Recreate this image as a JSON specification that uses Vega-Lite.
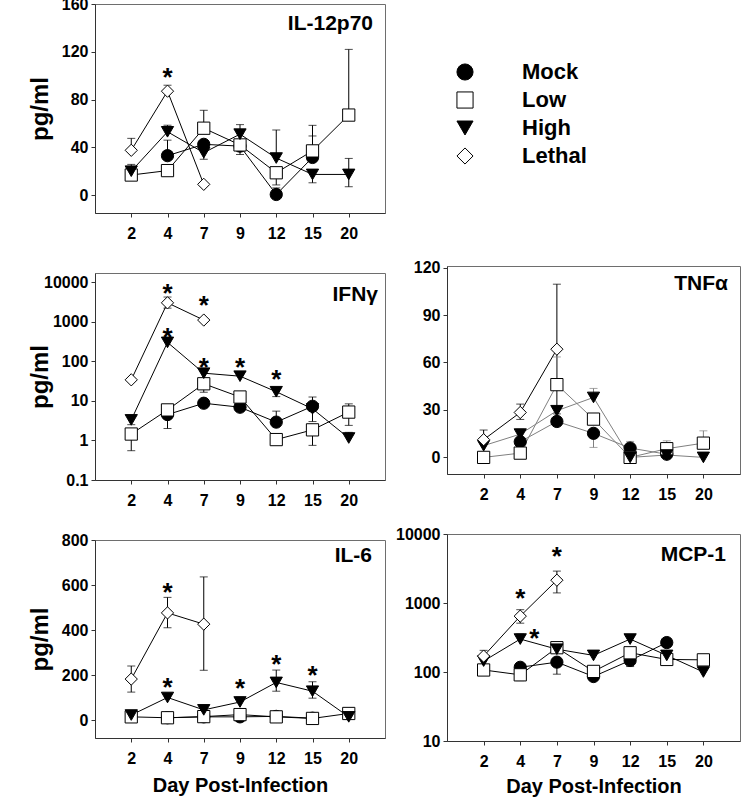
{
  "$schema": "https://vega.github.io/schema/vega-lite/v6.json",
  "background": "white",
  "padding": {"left": 27, "top": -5, "right": 0, "bottom": 0},
  "config": {
    "font": "Liberation Sans",
    "view": {"stroke": "#6e6e6e", "strokeWidth": 1},
    "axis": {"labelFontSize": 16, "labelFontWeight": "bold", "labelColor": "black", "domainColor": "#333333", "tickColor": "#333333", "tickSize": 4, "grid": false, "titleFontWeight": "bold", "titleColor": "black"},
    "axisX": {"labelPadding": 8, "labelAngle": 0, "titleFontSize": 20, "titleY": 53, "titleBaseline": "alphabetic"},
    "axisY": {"labelPadding": 3, "titleFontSize": 24, "titleX": -55, "titleBaseline": "middle"},
    "legend": {"orient": "none", "legendX": 359, "legendY": 57, "labelFontSize": 22, "labelFontWeight": "bold", "labelColor": "black", "labelOffset": 46, "symbolSize": 260, "symbolStrokeColor": "black", "symbolStrokeWidth": 1, "symbolOpacity": 1, "rowPadding": 6, "padding": 0, "labelLimit": 300},
    "title": {"anchor": "end", "frame": "group", "baseline": "alphabetic", "fontSize": 21, "fontWeight": "bold", "color": "black"}
  },
  "datasets": {
    "pts": [
      {"panel":"IL12","group":"Mock","day":4,"value":33},{"panel":"IL12","group":"Mock","day":7,"value":42.5},{"panel":"IL12","group":"Mock","day":9,"value":41},{"panel":"IL12","group":"Mock","day":12,"value":0.5},{"panel":"IL12","group":"Mock","day":15,"value":31.5},
      {"panel":"IL12","group":"Low","day":2,"value":16.8},{"panel":"IL12","group":"Low","day":4,"value":20.5},{"panel":"IL12","group":"Low","day":7,"value":56},{"panel":"IL12","group":"Low","day":9,"value":42},{"panel":"IL12","group":"Low","day":12,"value":18.7},{"panel":"IL12","group":"Low","day":15,"value":37},{"panel":"IL12","group":"Low","day":20,"value":67},
      {"panel":"IL12","group":"High","day":2,"value":20},{"panel":"IL12","group":"High","day":4,"value":53},{"panel":"IL12","group":"High","day":7,"value":35.5},{"panel":"IL12","group":"High","day":9,"value":51},{"panel":"IL12","group":"High","day":12,"value":31},{"panel":"IL12","group":"High","day":15,"value":17.3},{"panel":"IL12","group":"High","day":20,"value":17.3},
      {"panel":"IL12","group":"Lethal","day":2,"value":37.5},{"panel":"IL12","group":"Lethal","day":4,"value":87},{"panel":"IL12","group":"Lethal","day":7,"value":9},

      {"panel":"IFN","group":"Mock","day":4,"value":4.5},{"panel":"IFN","group":"Mock","day":7,"value":8.7},{"panel":"IFN","group":"Mock","day":9,"value":6.9},{"panel":"IFN","group":"Mock","day":12,"value":2.9},{"panel":"IFN","group":"Mock","day":15,"value":7.3},
      {"panel":"IFN","group":"Low","day":2,"value":1.45},{"panel":"IFN","group":"Low","day":4,"value":5.9},{"panel":"IFN","group":"Low","day":7,"value":27},{"panel":"IFN","group":"Low","day":9,"value":12.5},{"panel":"IFN","group":"Low","day":12,"value":1.05},{"panel":"IFN","group":"Low","day":15,"value":1.85},{"panel":"IFN","group":"Low","day":20,"value":5.2},
      {"panel":"IFN","group":"High","day":2,"value":3.3},{"panel":"IFN","group":"High","day":4,"value":300},{"panel":"IFN","group":"High","day":7,"value":50},{"panel":"IFN","group":"High","day":9,"value":42},{"panel":"IFN","group":"High","day":12,"value":17},{"panel":"IFN","group":"High","day":15,"value":6.3},{"panel":"IFN","group":"High","day":20,"value":1.15},
      {"panel":"IFN","group":"Lethal","day":2,"value":34},{"panel":"IFN","group":"Lethal","day":4,"value":3000},{"panel":"IFN","group":"Lethal","day":7,"value":1100},

      {"panel":"TNF","group":"Mock","day":4,"value":9.9},{"panel":"TNF","group":"Mock","day":7,"value":22.7},{"panel":"TNF","group":"Mock","day":9,"value":15.2},{"panel":"TNF","group":"Mock","day":12,"value":5.9},{"panel":"TNF","group":"Mock","day":15,"value":2},
      {"panel":"TNF","group":"Low","day":2,"value":0},{"panel":"TNF","group":"Low","day":4,"value":2.7},{"panel":"TNF","group":"Low","day":7,"value":46},{"panel":"TNF","group":"Low","day":9,"value":24.2},{"panel":"TNF","group":"Low","day":12,"value":0},{"panel":"TNF","group":"Low","day":15,"value":5.5},{"panel":"TNF","group":"Low","day":20,"value":9},
      {"panel":"TNF","group":"High","day":2,"value":7.4},{"panel":"TNF","group":"High","day":4,"value":14.7},{"panel":"TNF","group":"High","day":7,"value":29.5},{"panel":"TNF","group":"High","day":9,"value":37.9},{"panel":"TNF","group":"High","day":12,"value":0},{"panel":"TNF","group":"High","day":15,"value":1.5},{"panel":"TNF","group":"High","day":20,"value":0},
      {"panel":"TNF","group":"Lethal","day":2,"value":11.2},{"panel":"TNF","group":"Lethal","day":4,"value":28.4},{"panel":"TNF","group":"Lethal","day":7,"value":68.4},

      {"panel":"IL6","group":"Mock","day":4,"value":10},{"panel":"IL6","group":"Mock","day":7,"value":14},{"panel":"IL6","group":"Mock","day":9,"value":14},{"panel":"IL6","group":"Mock","day":12,"value":16},{"panel":"IL6","group":"Mock","day":15,"value":8},
      {"panel":"IL6","group":"Low","day":2,"value":14},{"panel":"IL6","group":"Low","day":4,"value":10},{"panel":"IL6","group":"Low","day":7,"value":15},{"panel":"IL6","group":"Low","day":9,"value":24},{"panel":"IL6","group":"Low","day":12,"value":14},{"panel":"IL6","group":"Low","day":15,"value":7},{"panel":"IL6","group":"Low","day":20,"value":29},
      {"panel":"IL6","group":"High","day":2,"value":22},{"panel":"IL6","group":"High","day":4,"value":100},{"panel":"IL6","group":"High","day":7,"value":45},{"panel":"IL6","group":"High","day":9,"value":80},{"panel":"IL6","group":"High","day":12,"value":167},{"panel":"IL6","group":"High","day":15,"value":128},{"panel":"IL6","group":"High","day":20,"value":14},
      {"panel":"IL6","group":"Lethal","day":2,"value":182},{"panel":"IL6","group":"Lethal","day":4,"value":476},{"panel":"IL6","group":"Lethal","day":7,"value":426},

      {"panel":"MCP","group":"Mock","day":4,"value":117},{"panel":"MCP","group":"Mock","day":7,"value":139},{"panel":"MCP","group":"Mock","day":9,"value":86},{"panel":"MCP","group":"Mock","day":12,"value":147},{"panel":"MCP","group":"Mock","day":15,"value":267},
      {"panel":"MCP","group":"Low","day":2,"value":107},{"panel":"MCP","group":"Low","day":4,"value":91},{"panel":"MCP","group":"Low","day":7,"value":225},{"panel":"MCP","group":"Low","day":9,"value":102},{"panel":"MCP","group":"Low","day":12,"value":190},{"panel":"MCP","group":"Low","day":15,"value":152},{"panel":"MCP","group":"Low","day":20,"value":150},
      {"panel":"MCP","group":"High","day":2,"value":144},{"panel":"MCP","group":"High","day":4,"value":300},{"panel":"MCP","group":"High","day":7,"value":214},{"panel":"MCP","group":"High","day":9,"value":174},{"panel":"MCP","group":"High","day":12,"value":300},{"panel":"MCP","group":"High","day":15,"value":174},{"panel":"MCP","group":"High","day":20,"value":100},
      {"panel":"MCP","group":"Lethal","day":2,"value":170},{"panel":"MCP","group":"Lethal","day":4,"value":645},{"panel":"MCP","group":"Lethal","day":7,"value":2140}
    ],
    "err": [
      {"panel":"IL12","group":"Lethal","day":2,"from":37.5,"to":47.5},{"panel":"IL12","group":"Lethal","day":4,"from":87,"to":92},
      {"panel":"IL12","group":"High","day":2,"from":20,"to":25.7},{"panel":"IL12","group":"High","day":4,"from":53,"to":58.5},{"panel":"IL12","group":"High","day":7,"from":35.5,"to":30},{"panel":"IL12","group":"High","day":9,"from":51,"to":59},{"panel":"IL12","group":"High","day":12,"from":31,"to":54.5},{"panel":"IL12","group":"High","day":15,"from":17.3,"to":10.3},{"panel":"IL12","group":"High","day":20,"from":17.3,"to":30.7},{"panel":"IL12","group":"High","day":20,"from":17.3,"to":7},
      {"panel":"IL12","group":"Mock","day":4,"from":33,"to":46},{"panel":"IL12","group":"Mock","day":12,"from":0.5,"to":6},{"panel":"IL12","group":"Mock","day":15,"from":31.5,"to":49.5},
      {"panel":"IL12","group":"Low","day":7,"from":56,"to":71},{"panel":"IL12","group":"Low","day":9,"from":42,"to":34},{"panel":"IL12","group":"Low","day":12,"from":18.7,"to":8.5},{"panel":"IL12","group":"Low","day":15,"from":37,"to":58.4},{"panel":"IL12","group":"Low","day":20,"from":67,"to":122},

      {"panel":"IFN","group":"Lethal","day":4,"from":3000,"to":4200},{"panel":"IFN","group":"Lethal","day":4,"from":3000,"to":2200},
      {"panel":"IFN","group":"High","day":2,"from":3.3,"to":2.5},{"panel":"IFN","group":"High","day":12,"from":17,"to":12.8},{"panel":"IFN","group":"High","day":20,"from":1.15,"to":1.6},
      {"panel":"IFN","group":"Low","day":2,"from":1.45,"to":0.55},{"panel":"IFN","group":"Low","day":7,"from":27,"to":16.5},{"panel":"IFN","group":"Low","day":15,"from":1.85,"to":0.75},{"panel":"IFN","group":"Low","day":20,"from":5.2,"to":8.4},{"panel":"IFN","group":"Low","day":20,"from":5.2,"to":2.4},
      {"panel":"IFN","group":"Mock","day":4,"from":4.5,"to":2.0},{"panel":"IFN","group":"Mock","day":12,"from":2.9,"to":5.5},{"panel":"IFN","group":"Mock","day":15,"from":7.3,"to":12.5},{"panel":"IFN","group":"Mock","day":15,"from":7.3,"to":3},

      {"panel":"TNF","group":"Lethal","day":2,"from":11.2,"to":17.3},{"panel":"TNF","group":"Lethal","day":4,"from":28.4,"to":33.7},{"panel":"TNF","group":"Lethal","day":4,"from":28.4,"to":24},{"panel":"TNF","group":"Lethal","day":7,"from":68.4,"to":109.5},{"panel":"TNF","group":"Lethal","day":7,"from":68.4,"to":27.5},
      {"panel":"TNF","group":"Low","day":7,"from":46,"to":63.5},{"panel":"TNF","group":"Low","day":15,"from":5.5,"to":10.5},{"panel":"TNF","group":"Low","day":20,"from":9,"to":16.8},
      {"panel":"TNF","group":"High","day":4,"from":14.7,"to":17.9},{"panel":"TNF","group":"High","day":9,"from":37.9,"to":43.6},
      {"panel":"TNF","group":"Mock","day":9,"from":15.2,"to":6.3},{"panel":"TNF","group":"Mock","day":12,"from":5.9,"to":10.1},

      {"panel":"IL6","group":"Lethal","day":2,"from":182,"to":240},{"panel":"IL6","group":"Lethal","day":2,"from":182,"to":124},{"panel":"IL6","group":"Lethal","day":4,"from":476,"to":545},{"panel":"IL6","group":"Lethal","day":4,"from":476,"to":410},{"panel":"IL6","group":"Lethal","day":7,"from":426,"to":636},{"panel":"IL6","group":"Lethal","day":7,"from":426,"to":221},
      {"panel":"IL6","group":"High","day":9,"from":80,"to":102},{"panel":"IL6","group":"High","day":12,"from":167,"to":222},{"panel":"IL6","group":"High","day":12,"from":167,"to":128},{"panel":"IL6","group":"High","day":15,"from":128,"to":170},{"panel":"IL6","group":"High","day":15,"from":128,"to":97},

      {"panel":"MCP","group":"Lethal","day":2,"from":170,"to":206},{"panel":"MCP","group":"Lethal","day":4,"from":645,"to":800},{"panel":"MCP","group":"Lethal","day":4,"from":645,"to":510},{"panel":"MCP","group":"Lethal","day":7,"from":2140,"to":2900},{"panel":"MCP","group":"Lethal","day":7,"from":2140,"to":1400},
      {"panel":"MCP","group":"High","day":4,"from":300,"to":355},{"panel":"MCP","group":"Low","day":7,"from":225,"to":270},{"panel":"MCP","group":"Low","day":4,"from":91,"to":75},{"panel":"MCP","group":"Mock","day":7,"from":139,"to":93},{"panel":"MCP","group":"Mock","day":12,"from":147,"to":120}
    ],
    "stars": [
      {"panel":"IL12","group":"Lethal","day":4,"value":104},
      {"panel":"IFN","group":"Lethal","day":4,"value":7400},{"panel":"IFN","group":"High","day":4,"value":590},{"panel":"IFN","group":"Lethal","day":7,"value":3830},{"panel":"IFN","group":"High","day":7,"value":102},{"panel":"IFN","group":"High","day":9,"value":102},{"panel":"IFN","group":"High","day":12,"value":52},
      {"panel":"IL6","group":"Lethal","day":4,"value":596},{"panel":"IL6","group":"High","day":4,"value":175},{"panel":"IL6","group":"High","day":9,"value":167},{"panel":"IL6","group":"High","day":12,"value":276},{"panel":"IL6","group":"High","day":15,"value":225},
      {"panel":"MCP","group":"Lethal","day":7,"value":5900},{"panel":"MCP","group":"Lethal","day":4,"value":1450},{"panel":"MCP","group":"High","day":4,"value":383}
    ]
  },
  "spacing": 9,
  "hconcat": [
    {
      "spacing": 60,
      "bounds": "flush",
      "vconcat": [
        {
          "width": 290, "height": 209,
          "title": {"text": "IL-12p70", "offset": -38, "dx": -12},
          "encoding": {"x": {"field": "day", "type": "ordinal", "scale": {"type": "point", "padding": 1, "domain": [2,4,7,9,12,15,20]}, "axis": {"title": null}}},
          "layer": [
            {"data": {"name": "err"}, "transform": [{"filter": "datum.panel === 'IL12'"}], "mark": {"type": "rule", "color": "black", "strokeWidth": 1},
             "encoding": {"y": {"field": "from", "type": "quantitative", "scale": {"domain": [-15,160], "nice": false, "zero": false}, "axis": {"values": [0,40,80,120,160], "title": "pg/ml"}}, "y2": {"field": "to"}}},
            {"data": {"name": "err"}, "transform": [{"filter": "datum.panel === 'IL12'"}], "mark": {"type": "tick", "orient": "horizontal", "size": 8, "thickness": 1, "color": "black"},
             "encoding": {"y": {"field": "to", "type": "quantitative", "scale": {"domain": [-15,160], "nice": false, "zero": false}, "axis": {"values": [0,40,80,120,160], "title": "pg/ml"}}}},
            {"data": {"name": "pts"}, "transform": [{"filter": "datum.panel === 'IL12'"}], "mark": {"type": "line", "color": "black", "strokeWidth": 1},
             "encoding": {"y": {"field": "value", "type": "quantitative", "scale": {"domain": [-15,160], "nice": false, "zero": false}, "axis": {"values": [0,40,80,120,160], "title": "pg/ml"}}, "detail": {"field": "group"}}},
            {"data": {"name": "pts"}, "transform": [{"filter": "datum.panel === 'IL12'"}], "mark": {"type": "point", "filled": true, "stroke": "black", "strokeWidth": 1, "size": 150, "opacity": 1},
             "encoding": {"y": {"field": "value", "type": "quantitative", "scale": {"domain": [-15,160], "nice": false, "zero": false}, "axis": {"values": [0,40,80,120,160], "title": "pg/ml"}},
               "shape": {"field": "group", "scale": {"domain": ["Mock","Low","High","Lethal"], "range": ["circle","square","triangle-down","diamond"]}, "legend": {"title": null, "encode": {"symbols": {"update": {"stroke": {"value": "black"}, "strokeWidth": {"value": 1}}}}}},
               "fill": {"field": "group", "scale": {"domain": ["Mock","Low","High","Lethal"], "range": ["black","white","black","white"]}, "legend": {"title": null, "encode": {"symbols": {"update": {"stroke": {"value": "black"}, "strokeWidth": {"value": 1}}}}}}}},
            {"data": {"name": "stars"}, "transform": [{"filter": "datum.panel === 'IL12'"}], "mark": {"type": "text", "text": "*", "fontSize": 26, "fontWeight": "bold", "baseline": "alphabetic", "dy": 15, "color": "black"},
             "encoding": {"y": {"field": "value", "type": "quantitative", "scale": {"domain": [-15,160], "nice": false, "zero": false}, "axis": {"values": [0,40,80,120,160], "title": "pg/ml"}}}}
          ]
        },
        {
          "width": 290, "height": 207,
          "title": {"text": "IFNγ", "offset": -32, "dx": -7},
          "encoding": {"x": {"field": "day", "type": "ordinal", "scale": {"type": "point", "padding": 1, "domain": [2,4,7,9,12,15,20]}, "axis": {"title": null}}},
          "layer": [
            {"data": {"name": "err"}, "transform": [{"filter": "datum.panel === 'IFN'"}], "mark": {"type": "rule", "color": "black", "strokeWidth": 1},
             "encoding": {"y": {"field": "from", "type": "quantitative", "scale": {"type": "log", "domain": [0.1,17000], "nice": false}, "axis": {"values": [0.1,1,10,100,1000,10000], "format": "~g", "title": "pg/ml"}}, "y2": {"field": "to"}}},
            {"data": {"name": "err"}, "transform": [{"filter": "datum.panel === 'IFN'"}], "mark": {"type": "tick", "orient": "horizontal", "size": 8, "thickness": 1, "color": "black"},
             "encoding": {"y": {"field": "to", "type": "quantitative", "scale": {"type": "log", "domain": [0.1,17000], "nice": false}, "axis": {"values": [0.1,1,10,100,1000,10000], "format": "~g", "title": "pg/ml"}}}},
            {"data": {"name": "pts"}, "transform": [{"filter": "datum.panel === 'IFN'"}], "mark": {"type": "line", "color": "black", "strokeWidth": 1},
             "encoding": {"y": {"field": "value", "type": "quantitative", "scale": {"type": "log", "domain": [0.1,17000], "nice": false}, "axis": {"values": [0.1,1,10,100,1000,10000], "format": "~g", "title": "pg/ml"}}, "detail": {"field": "group"}}},
            {"data": {"name": "pts"}, "transform": [{"filter": "datum.panel === 'IFN'"}], "mark": {"type": "point", "filled": true, "stroke": "black", "strokeWidth": 1, "size": 150, "opacity": 1},
             "encoding": {"y": {"field": "value", "type": "quantitative", "scale": {"type": "log", "domain": [0.1,17000], "nice": false}, "axis": {"values": [0.1,1,10,100,1000,10000], "format": "~g", "title": "pg/ml"}},
               "shape": {"field": "group", "scale": {"domain": ["Mock","Low","High","Lethal"], "range": ["circle","square","triangle-down","diamond"]}, "legend": {"title": null, "encode": {"symbols": {"update": {"stroke": {"value": "black"}, "strokeWidth": {"value": 1}}}}}},
               "fill": {"field": "group", "scale": {"domain": ["Mock","Low","High","Lethal"], "range": ["black","white","black","white"]}, "legend": {"title": null, "encode": {"symbols": {"update": {"stroke": {"value": "black"}, "strokeWidth": {"value": 1}}}}}}}},
            {"data": {"name": "stars"}, "transform": [{"filter": "datum.panel === 'IFN'"}], "mark": {"type": "text", "text": "*", "fontSize": 26, "fontWeight": "bold", "baseline": "alphabetic", "dy": 15, "color": "black"},
             "encoding": {"y": {"field": "value", "type": "quantitative", "scale": {"type": "log", "domain": [0.1,17000], "nice": false}, "axis": {"values": [0.1,1,10,100,1000,10000], "format": "~g", "title": "pg/ml"}}}}
          ]
        },
        {
          "width": 290, "height": 198,
          "title": {"text": "IL-6", "offset": -34, "dx": -13},
          "encoding": {"x": {"field": "day", "type": "ordinal", "scale": {"type": "point", "padding": 1, "domain": [2,4,7,9,12,15,20]}, "axis": {"title": "Day Post-Infection"}}},
          "layer": [
            {"data": {"name": "err"}, "transform": [{"filter": "datum.panel === 'IL6'"}], "mark": {"type": "rule", "color": "black", "strokeWidth": 1},
             "encoding": {"y": {"field": "from", "type": "quantitative", "scale": {"domain": [-80,800], "nice": false, "zero": false}, "axis": {"values": [0,200,400,600,800], "title": "pg/ml"}}, "y2": {"field": "to"}}},
            {"data": {"name": "err"}, "transform": [{"filter": "datum.panel === 'IL6'"}], "mark": {"type": "tick", "orient": "horizontal", "size": 8, "thickness": 1, "color": "black"},
             "encoding": {"y": {"field": "to", "type": "quantitative", "scale": {"domain": [-80,800], "nice": false, "zero": false}, "axis": {"values": [0,200,400,600,800], "title": "pg/ml"}}}},
            {"data": {"name": "pts"}, "transform": [{"filter": "datum.panel === 'IL6'"}], "mark": {"type": "line", "color": "black", "strokeWidth": 1},
             "encoding": {"y": {"field": "value", "type": "quantitative", "scale": {"domain": [-80,800], "nice": false, "zero": false}, "axis": {"values": [0,200,400,600,800], "title": "pg/ml"}}, "detail": {"field": "group"}}},
            {"data": {"name": "pts"}, "transform": [{"filter": "datum.panel === 'IL6'"}], "mark": {"type": "point", "filled": true, "stroke": "black", "strokeWidth": 1, "size": 150, "opacity": 1},
             "encoding": {"y": {"field": "value", "type": "quantitative", "scale": {"domain": [-80,800], "nice": false, "zero": false}, "axis": {"values": [0,200,400,600,800], "title": "pg/ml"}},
               "shape": {"field": "group", "scale": {"domain": ["Mock","Low","High","Lethal"], "range": ["circle","square","triangle-down","diamond"]}, "legend": {"title": null, "encode": {"symbols": {"update": {"stroke": {"value": "black"}, "strokeWidth": {"value": 1}}}}}},
               "fill": {"field": "group", "scale": {"domain": ["Mock","Low","High","Lethal"], "range": ["black","white","black","white"]}, "legend": {"title": null, "encode": {"symbols": {"update": {"stroke": {"value": "black"}, "strokeWidth": {"value": 1}}}}}}}},
            {"data": {"name": "stars"}, "transform": [{"filter": "datum.panel === 'IL6'"}], "mark": {"type": "text", "text": "*", "fontSize": 26, "fontWeight": "bold", "baseline": "alphabetic", "dy": 15, "color": "black"},
             "encoding": {"y": {"field": "value", "type": "quantitative", "scale": {"domain": [-80,800], "nice": false, "zero": false}, "axis": {"values": [0,200,400,600,800], "title": "pg/ml"}}}}
          ]
        }
      ]
    },
    {
      "spacing": 60,
      "bounds": "flush",
      "vconcat": [
        {
          "width": 293, "height": 202,
          "data": {"values": [{"group": "Mock"}]},
          "mark": {"type": "point", "opacity": 0},
          "view": {"stroke": null}
        },
        {
          "width": 293, "height": 208,
          "title": {"text": "TNFα", "offset": -34, "dx": -12},
          "encoding": {"x": {"field": "day", "type": "ordinal", "scale": {"type": "point", "padding": 1, "domain": [2,4,7,9,12,15,20]}, "axis": {"title": null}}},
          "layer": [
            {"data": {"name": "err"}, "transform": [{"filter": "datum.panel === 'TNF'"}], "mark": {"type": "rule", "strokeWidth": 1},
             "encoding": {"y": {"field": "from", "type": "quantitative", "scale": {"domain": [-10.5,121], "nice": false, "zero": false}, "axis": {"values": [0,30,60,90,120], "title": null}}, "y2": {"field": "to"},
               "color": {"condition": {"test": "datum.group === 'Lethal'", "value": "black"}, "value": "#808080"}}},
            {"data": {"name": "err"}, "transform": [{"filter": "datum.panel === 'TNF'"}], "mark": {"type": "tick", "orient": "horizontal", "size": 8, "thickness": 1},
             "encoding": {"y": {"field": "to", "type": "quantitative", "scale": {"domain": [-10.5,121], "nice": false, "zero": false}, "axis": {"values": [0,30,60,90,120], "title": null}},
               "color": {"condition": {"test": "datum.group === 'Lethal'", "value": "black"}, "value": "#808080"}}},
            {"data": {"name": "pts"}, "transform": [{"filter": "datum.panel === 'TNF'"}], "mark": {"type": "line", "strokeWidth": 1},
             "encoding": {"y": {"field": "value", "type": "quantitative", "scale": {"domain": [-10.5,121], "nice": false, "zero": false}, "axis": {"values": [0,30,60,90,120], "title": null}}, "detail": {"field": "group"},
               "color": {"condition": {"test": "datum.group === 'Lethal'", "value": "black"}, "value": "#808080"}}},
            {"data": {"name": "pts"}, "transform": [{"filter": "datum.panel === 'TNF'"}], "mark": {"type": "point", "filled": true, "stroke": "black", "strokeWidth": 1, "size": 150, "opacity": 1},
             "encoding": {"y": {"field": "value", "type": "quantitative", "scale": {"domain": [-10.5,121], "nice": false, "zero": false}, "axis": {"values": [0,30,60,90,120], "title": null}},
               "shape": {"field": "group", "scale": {"domain": ["Mock","Low","High","Lethal"], "range": ["circle","square","triangle-down","diamond"]}, "legend": {"title": null, "encode": {"symbols": {"update": {"stroke": {"value": "black"}, "strokeWidth": {"value": 1}}}}}},
               "fill": {"field": "group", "scale": {"domain": ["Mock","Low","High","Lethal"], "range": ["black","white","black","white"]}, "legend": {"title": null, "encode": {"symbols": {"update": {"stroke": {"value": "black"}, "strokeWidth": {"value": 1}}}}}}}}
          ]
        },
        {
          "width": 293, "height": 207,
          "title": {"text": "MCP-1", "offset": -39, "dx": -14},
          "encoding": {"x": {"field": "day", "type": "ordinal", "scale": {"type": "point", "padding": 1, "domain": [2,4,7,9,12,15,20]}, "axis": {"title": "Day Post-Infection", "titleY": 51}}},
          "layer": [
            {"data": {"name": "err"}, "transform": [{"filter": "datum.panel === 'MCP'"}], "mark": {"type": "rule", "color": "black", "strokeWidth": 1},
             "encoding": {"y": {"field": "from", "type": "quantitative", "scale": {"type": "log", "domain": [10,10000], "nice": false}, "axis": {"values": [10,100,1000,10000], "format": "~g", "title": null}}, "y2": {"field": "to"}}},
            {"data": {"name": "err"}, "transform": [{"filter": "datum.panel === 'MCP'"}], "mark": {"type": "tick", "orient": "horizontal", "size": 8, "thickness": 1, "color": "black"},
             "encoding": {"y": {"field": "to", "type": "quantitative", "scale": {"type": "log", "domain": [10,10000], "nice": false}, "axis": {"values": [10,100,1000,10000], "format": "~g", "title": null}}}},
            {"data": {"name": "pts"}, "transform": [{"filter": "datum.panel === 'MCP'"}], "mark": {"type": "line", "color": "black", "strokeWidth": 1},
             "encoding": {"y": {"field": "value", "type": "quantitative", "scale": {"type": "log", "domain": [10,10000], "nice": false}, "axis": {"values": [10,100,1000,10000], "format": "~g", "title": null}}, "detail": {"field": "group"}}},
            {"data": {"name": "pts"}, "transform": [{"filter": "datum.panel === 'MCP'"}], "mark": {"type": "point", "filled": true, "stroke": "black", "strokeWidth": 1, "size": 150, "opacity": 1},
             "encoding": {"y": {"field": "value", "type": "quantitative", "scale": {"type": "log", "domain": [10,10000], "nice": false}, "axis": {"values": [10,100,1000,10000], "format": "~g", "title": null}},
               "shape": {"field": "group", "scale": {"domain": ["Mock","Low","High","Lethal"], "range": ["circle","square","triangle-down","diamond"]}, "legend": {"title": null, "encode": {"symbols": {"update": {"stroke": {"value": "black"}, "strokeWidth": {"value": 1}}}}}},
               "fill": {"field": "group", "scale": {"domain": ["Mock","Low","High","Lethal"], "range": ["black","white","black","white"]}, "legend": {"title": null, "encode": {"symbols": {"update": {"stroke": {"value": "black"}, "strokeWidth": {"value": 1}}}}}}}},
            {"data": {"name": "stars"}, "transform": [{"filter": "datum.panel === 'MCP' && datum.group === 'Lethal'"}], "mark": {"type": "text", "text": "*", "fontSize": 26, "fontWeight": "bold", "baseline": "alphabetic", "dy": 15, "color": "black"},
             "encoding": {"y": {"field": "value", "type": "quantitative", "scale": {"type": "log", "domain": [10,10000], "nice": false}, "axis": {"values": [10,100,1000,10000], "format": "~g", "title": null}}}},
            {"data": {"name": "stars"}, "transform": [{"filter": "datum.panel === 'MCP' && datum.group === 'High'"}], "mark": {"type": "text", "text": "*", "fontSize": 26, "fontWeight": "bold", "baseline": "alphabetic", "dy": 15, "dx": 14, "color": "black"},
             "encoding": {"y": {"field": "value", "type": "quantitative", "scale": {"type": "log", "domain": [10,10000], "nice": false}, "axis": {"values": [10,100,1000,10000], "format": "~g", "title": null}}}}
          ]
        }
      ]
    }
  ]
}
